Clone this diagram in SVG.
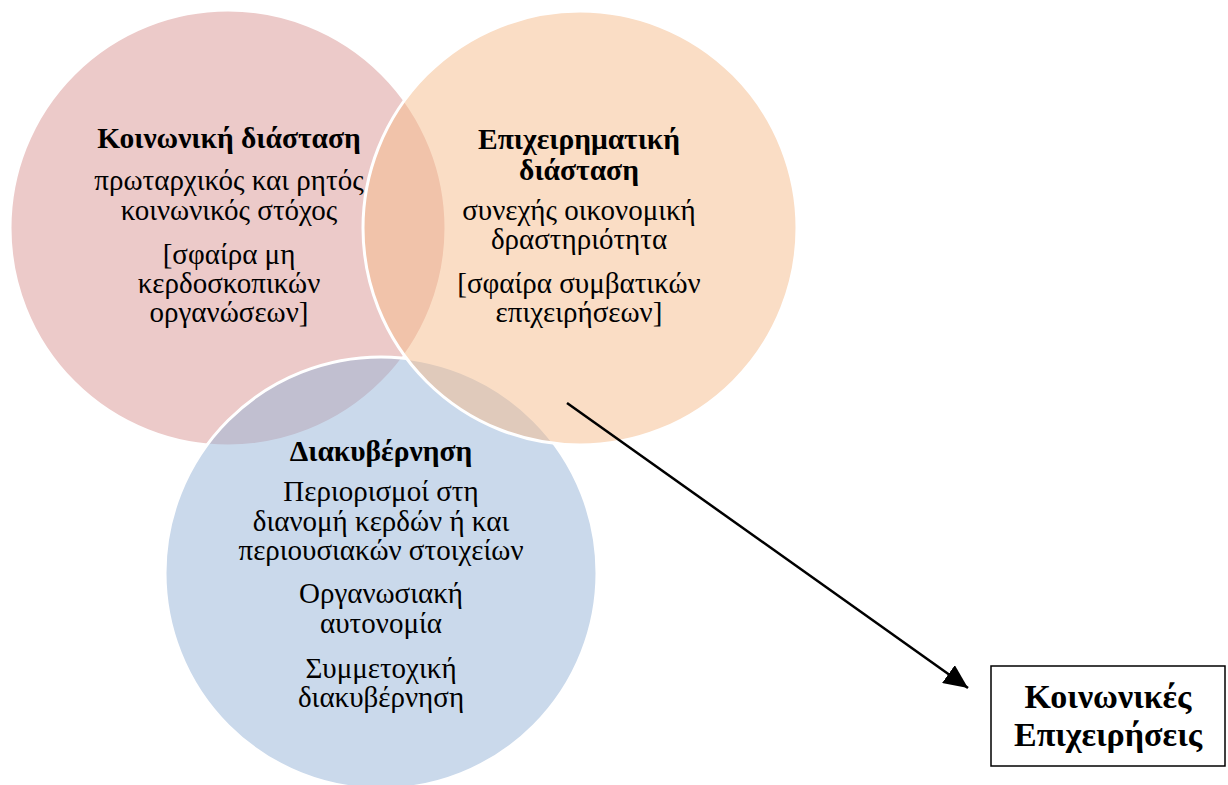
<svg xmlns="http://www.w3.org/2000/svg" width="1228" height="785" viewBox="0 0 1228 785">
<defs>
<style>
.c{stroke:#ffffff;stroke-width:3;fill-opacity:0.5}
.t{font-family:"Liberation Serif","Times New Roman",serif;font-size:29px;fill:#000;text-anchor:middle}
.h{font-weight:bold;font-size:29.5px}
.b{font-size:34px;font-weight:bold}
</style>
<marker id="ah" markerUnits="userSpaceOnUse" markerWidth="26" markerHeight="22" refX="24" refY="11" orient="auto">
<path d="M0,0 L24,11 L0,22 Z" fill="#000"/>
</marker>
</defs>
<rect width="1228" height="785" fill="#fff"/>
<g id="circles">
<circle id="social" class="c" cx="228" cy="228" r="218" fill="#D99694"/>
<circle id="governance" class="c" cx="381" cy="573" r="216" fill="#95B3D7"/>
<circle id="business" class="c" cx="580" cy="228" r="217" fill="#F5BB8B"/>
</g>
<g id="social-text" class="t">
<text x="229" y="148" class="h">Κοινωνική διάσταση</text>
<text x="229" y="190">πρωταρχικός και ρητός</text>
<text x="229" y="219.5">κοινωνικός στόχος</text>
<text x="229" y="264">[σφαίρα μη</text>
<text x="229" y="293">κερδοσκοπικών</text>
<text x="229" y="322">οργανώσεων]</text>
</g>
<g id="business-text" class="t">
<text x="579" y="149" class="h">Επιχειρηματική</text>
<text x="579" y="180" class="h">διάσταση</text>
<text x="579" y="220">συνεχής οικονομική</text>
<text x="579" y="249">δραστηριότητα</text>
<text x="579" y="293">[σφαίρα συμβατικών</text>
<text x="579" y="322">επιχειρήσεων]</text>
</g>
<g id="governance-text" class="t">
<text x="381" y="460.5" class="h">Διακυβέρνηση</text>
<text x="381" y="500.5">Περιορισμοί στη</text>
<text x="381" y="530.5">διανομή κερδών ή και</text>
<text x="381" y="560">περιουσιακών στοιχείων</text>
<text x="381" y="603">Οργανωσιακή</text>
<text x="381" y="633">αυτονομία</text>
<text x="381" y="677.5">Συμμετοχική</text>
<text x="381" y="707">διακυβέρνηση</text>
</g>
<g id="connectors">
<line x1="567" y1="403" x2="968" y2="688" stroke="#000" stroke-width="2.5" marker-end="url(#ah)"/>
</g>
<g id="social-enterprises">
<rect x="991" y="666" width="234" height="100" fill="#fff" stroke="#000" stroke-width="1.5"/>
<text x="1108" y="708" class="t b">Κοινωνικές</text>
<text x="1108" y="746" class="t b">Επιχειρήσεις</text>
</g>
</svg>
